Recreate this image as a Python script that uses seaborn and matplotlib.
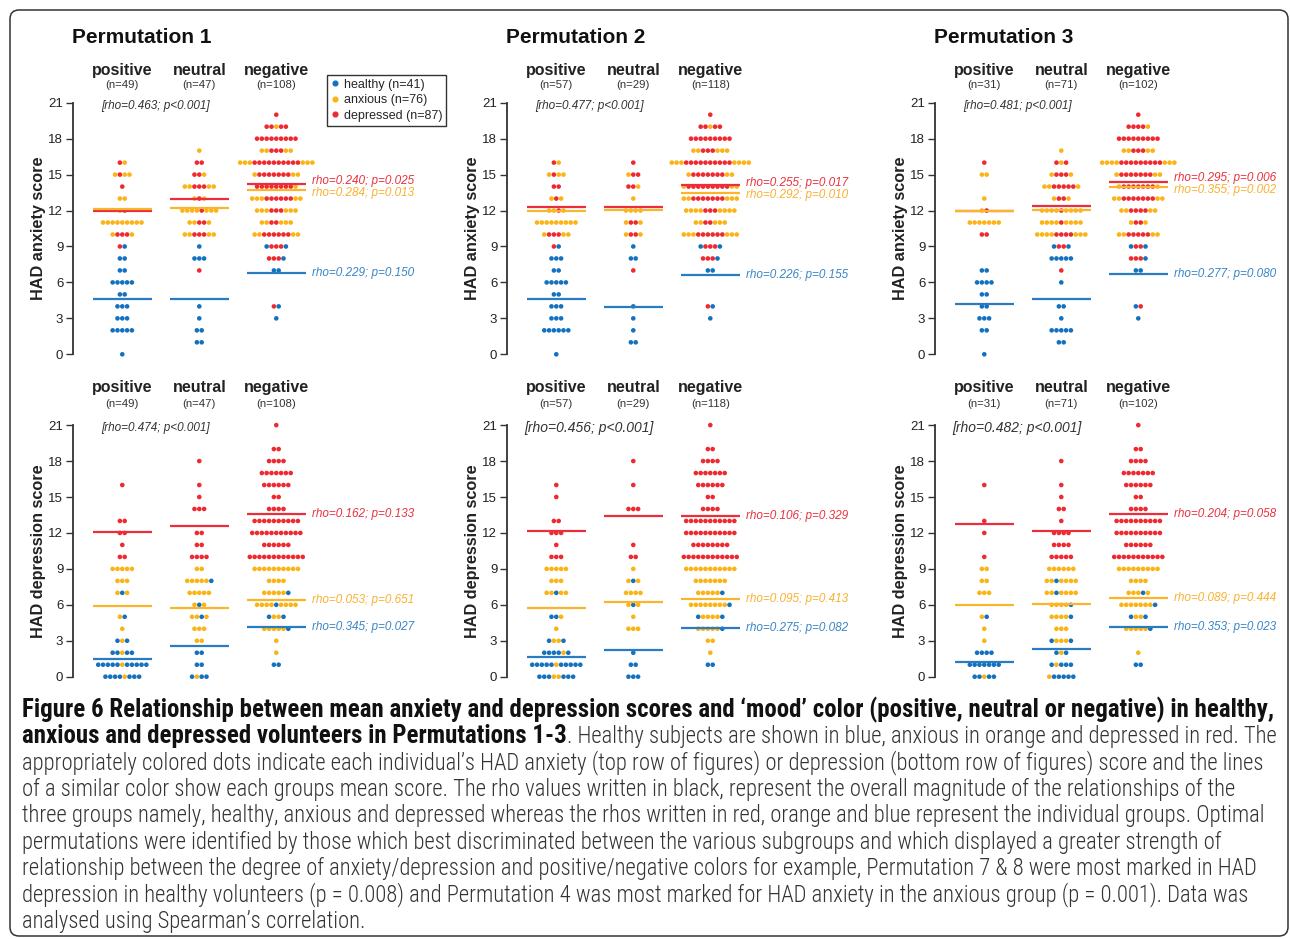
import matplotlib
matplotlib.use("Agg")
import numpy as np
import pandas as pd
import matplotlib.pyplot as plt
import seaborn as sns
from matplotlib import font_manager
from matplotlib.lines import Line2D
from matplotlib.patches import FancyBboxPatch
from matplotlib.transforms import IdentityTransform

# ---------------------------------------------------------------- data
CATEGORIES = ["positive", "neutral", "negative"]
GROUPS = ["healthy", "anxious", "depressed"]
GROUP_CODES = {"h": "healthy", "a": "anxious", "d": "depressed"}
GROUP_N = [41, 76, 87]
PERM_TITLES = ["Permutation 1", "Permutation 2", "Permutation 3"]
CATEGORY_N = [[49, 47, 108], [57, 29, 118], [31, 71, 102]]

# score -> group of each dot in the row, left to right (h/a/d)
anx1_pos = {16: "da", 15: "adaa", 14: "d", 13: "aa", 12: "ad", 11: "aaaaaaaaa", 10: "addda",
            9: "dh", 8: "hh", 7: "hh", 6: "hhhhh", 5: "hh", 4: "hhh", 3: "hhh", 2: "hhhhh", 0: "h"}
anx1_neu = {17: "a", 16: "dd", 15: "dda", 14: "aadddaa", 13: "ada", 12: "aaaadaaa", 11: "aadda",
            10: "aadddaa", 9: "h", 8: "hhh", 7: "d", 4: "h", 3: "h", 2: "hh", 1: "hh"}
anx1_neg = {20: "d", 19: "ddadd", 18: "ddddddddd", 17: "aadddaa", 16: "aaaddddddddddaaa",
            15: "adddddddaa", 14: "dddddddda", 13: "aaaddddddaa", 12: "aaadddaaa", 11: "aaddaaa",
            10: "aaddddddaa", 9: "hdddh", 8: "dddh", 7: "hh", 4: "dh", 3: "h"}

anx2_pos = {16: "da", 15: "adaa", 14: "dd", 13: "ada", 12: "aada", 11: "aaaaaaaaa", 10: "adddaa",
            9: "dh", 8: "hhh", 7: "hh", 6: "hhhhh", 5: "hh", 4: "hhh", 3: "hhh", 2: "hhhhhh", 0: "h"}
anx2_neu = {16: "d", 15: "add", 14: "dda", 13: "a", 12: "aaaa", 11: "adda", 10: "adda",
            9: "h", 8: "hh", 7: "d", 4: "h", 3: "h", 2: "h", 1: "hh"}
anx2_neg = {20: "d", 19: "ddadd", 18: "ddddddddd", 17: "aadddaaa", 16: "aaaddddddddddaaaa",
            15: "adddddddaa", 14: "adddddddddaa", 13: "aadddddddaaa", 12: "aaaadddaaaa", 11: "aaddaaa",
            10: "aaaddddddaaa", 9: "hdddh", 8: "dddh", 7: "hh", 4: "dh", 3: "h"}

anx3_pos = {16: "d", 15: "aa", 13: "a", 12: "ad", 11: "aaaaaaa", 10: "dd", 7: "hh", 6: "hhhh",
            5: "hh", 4: "hh", 3: "hhh", 2: "hh", 0: "h"}
anx3_neu = {17: "a", 16: "dad", 15: "addda", 14: "aaddddda", 13: "adda", 12: "aaaadaaaa",
            11: "aaaadaaaa", 10: "aaaaddddaaa", 9: "hddh", 8: "hhhhh", 7: "d", 6: "h", 4: "hh",
            3: "h", 2: "hhhhh", 1: "hh"}
anx3_neg = {20: "d", 19: "dddda", 18: "ddddddddd", 17: "aadddaa", 16: "aaaadddddddddaaa",
            15: "adddddddaa", 14: "addddddda", 13: "aadddddddaa", 12: "aaddddaa", 11: "adda",
            10: "aadddddaa", 9: "hddh", 8: "dddh", 7: "hh", 4: "hd", 3: "h"}

dep1_pos = {16: "d", 13: "dd", 12: "dd", 11: "d", 10: "dd", 9: "aaaaa", 8: "aaa", 7: "aha",
            5: "ah", 4: "a", 3: "hah", 2: "hhahh", 1: "hhhhhahhhhh", 0: "hhhhahhh"}
dep1_neu = {18: "d", 16: "d", 15: "d", 14: "ddd", 12: "dd", 11: "dd", 10: "dddd", 9: "aa",
            8: "aaaaah", 7: "aaaaa", 6: "aha", 5: "aaha", 4: "aaa", 3: "aa", 2: "hh", 1: "hh", 0: "hahh"}
dep1_neg = {21: "d", 19: "dd", 18: "dddd", 17: "ddddddd", 16: "dddddd", 15: "dd", 14: "dddd",
            13: "dddddddddd", 12: "ddddddddddd", 11: "dddddd", 10: "dddddddddddd",
            9: "aaaaaaaaaa", 8: "aaaa", 7: "aaaaah", 6: "aaaahaaaa", 5: "haah", 4: "aaaaah",
            3: "a", 2: "a", 1: "hh"}

dep2_pos = {16: "d", 15: "d", 13: "dd", 12: "ddd", 11: "d", 10: "ddd", 9: "aaaaa", 8: "aaa",
            7: "aahaa", 5: "hha", 4: "a", 3: "haah", 2: "hhhhah", 1: "hhhhhahhhhh", 0: "hhhaahhh"}
dep2_neu = {18: "d", 16: "d", 14: "ddd", 11: "d", 10: "dd", 9: "a", 8: "aha", 7: "aaaa",
            6: "aha", 5: "a", 4: "aaa", 2: "h", 1: "hh", 0: "hhh"}
dep2_neg = {21: "d", 19: "dd", 18: "dddd", 17: "ddddddd", 16: "dddddd", 15: "dd", 14: "dddd",
            13: "ddddddddddd", 12: "ddddddddddd", 11: "dddddddd", 10: "dddddddddddd",
            9: "aaaaaaaaaaa", 8: "aaaaaaa", 7: "aaaaah", 6: "aaaaaaaah", 5: "haaaah", 4: "aaaaah",
            3: "aa", 2: "a", 1: "hh"}

dep3_pos = {16: "d", 13: "d", 12: "d", 10: "d", 9: "aa", 8: "aa", 7: "aaa", 5: "ah", 4: "a",
            3: "a", 2: "hhhh", 1: "hhhhhhh", 0: "hhahh"}
dep3_neu = {18: "d", 16: "d", 15: "d", 14: "dd", 13: "d", 12: "dddd", 11: "dddd", 10: "ddddd",
            9: "aaaaaa", 8: "aahaaaa", 7: "aahaaaa", 6: "aaaah", 5: "aaaah", 4: "aaa", 3: "haaah",
            2: "hah", 1: "hahhh", 0: "ahhhhh"}
dep3_neg = {21: "d", 19: "dd", 18: "dddd", 17: "ddddddd", 16: "dddddd", 15: "dd", 14: "dddd",
            13: "dddddddddd", 12: "dddddddddd", 11: "dddddd", 10: "ddddddddddd",
            9: "aaaaaaaaa", 8: "aaaa", 7: "aaaha", 6: "aaaaaaah", 5: "haah", 4: "aaaaah",
            2: "a", 1: "hh"}

ANXIETY = [[anx1_pos, anx1_neu, anx1_neg], [anx2_pos, anx2_neu, anx2_neg], [anx3_pos, anx3_neu, anx3_neg]]
DEPRESSION = [[dep1_pos, dep1_neu, dep1_neg], [dep2_pos, dep2_neu, dep2_neg], [dep3_pos, dep3_neu, dep3_neg]]

# group means per category: [healthy, anxious, depressed]
ANX_MEANS = [
    [[4.6, 12.16, 12.0], [4.6, 12.19, 12.94], [6.76, 13.69, 14.24]],
    [[4.6, 11.94, 12.27], [3.98, 12.08, 12.3], [6.65, 13.46, 14.16]],
    [[4.2, 12.0, 12.0], [4.6, 12.07, 12.38], [6.68, 13.99, 14.36]],
]
DEP_MEANS = [
    [[1.5, 5.93, 12.1], [2.59, 5.76, 12.6], [4.17, 6.4, 13.55]],
    [[1.62, 5.73, 12.19], [2.23, 6.24, 13.39], [4.07, 6.51, 13.39]],
    [[1.23, 6.01, 12.75], [2.34, 6.07, 12.16], [4.15, 6.6, 13.58]],
]
ANX_OVERALL = ["[rho=0.463; p<0.001]", "[rho=0.477; p<0.001]", "[rho=0.481; p<0.001]"]
DEP_OVERALL = ["[rho=0.474; p<0.001]", "[rho=0.456; p<0.001]", "[rho=0.482; p<0.001]"]
ANX_GROUP_RHO = [
    ["rho=0.229; p=0.150", "rho=0.284; p=0.013", "rho=0.240; p=0.025"],
    ["rho=0.226; p=0.155", "rho=0.292; p=0.010", "rho=0.255; p=0.017"],
    ["rho=0.277; p=0.080", "rho=0.355; p=0.002", "rho=0.295; p=0.006"],
]
DEP_GROUP_RHO = [
    ["rho=0.345; p=0.027", "rho=0.053; p=0.651", "rho=0.162; p=0.133"],
    ["rho=0.275; p=0.082", "rho=0.095; p=0.413", "rho=0.106; p=0.329"],
    ["rho=0.353; p=0.023", "rho=0.089; p=0.444", "rho=0.204; p=0.058"],
]
ROW_YLABELS = ["HAD anxiety score", "HAD depression score"]

CAPTION_BOLD_1 = ("Figure 6 Relationship between mean anxiety and depression scores and \u2018mood\u2019 color "
                  "(positive, neutral or negative) in healthy,")
CAPTION_BOLD_2 = "anxious and depressed volunteers in Permutations 1-3"
CAPTION_REST_2 = ". Healthy subjects are shown in blue, anxious in orange and depressed in red. The"
CAPTION_LINES = [
    "appropriately colored dots indicate each individual\u2019s HAD anxiety (top row of figures) or depression (bottom row of figures) score and the lines",
    "of a similar color show each groups mean score. The rho values written in black, represent the overall magnitude of the relationships of the",
    "three groups namely, healthy, anxious and depressed whereas the rhos written in red, orange and blue represent the individual groups. Optimal",
    "permutations were identified by those which best discriminated between the various subgroups and which displayed a greater strength of",
    "relationship between the degree of anxiety/depression and positive/negative colors for example, Permutation 7 & 8 were most marked in HAD",
    "depression in healthy volunteers (p = 0.008) and Permutation 4 was most marked for HAD anxiety in the anxious group (p = 0.001). Data was",
    "analysed using Spearman\u2019s correlation.",
]

# ---------------------------------------------------------------- style
DOT_COLORS = {"healthy": "#1372c0", "anxious": "#fbb415", "depressed": "#ee2a30"}
LINE_COLORS = ["#2a7cc2", "#fbb52a", "#ec2d3b"]
TEXT_COLORS = ["#3a85c6", "#f8b131", "#e8323f"]
INK = "#222222"

sns.set_style("white")
plt.rcParams["font.family"] = ["Liberation Sans", "DejaVu Sans"]

W, H = 1290, 939
fig = plt.figure(figsize=(W / 100, H / 100), dpi=100)

X_LEFT, X_RIGHT = -0.64, 2.6
Y_LOW, Y_HIGH = -0.5, 21.5
PX_X, PX_Y = 77.0, 11.98
DOT_STEP = 0.0625
SPINE_X = [73, 507, 935]
ZERO_Y = [354.3, 676.7]
HEADER_Y = [(23.73, 22.48), (24.15, 22.75)]
ax_w = (X_RIGHT - X_LEFT) * PX_X
ax_h = (Y_HIGH - Y_LOW) * PX_Y


def panel_frame(columns):
    rows = []
    for ci, col in enumerate(columns):
        for score, codes in col.items():
            n = len(codes)
            for k, code in enumerate(codes):
                rows.append({"x": ci + (k - (n - 1) / 2) * DOT_STEP, "score": score,
                             "group": GROUP_CODES[code]})
    return pd.DataFrame(rows)


for row in range(2):
    data_sets = ANXIETY if row == 0 else DEPRESSION
    means_sets = ANX_MEANS if row == 0 else DEP_MEANS
    overall = ANX_OVERALL if row == 0 else DEP_OVERALL
    group_rho = ANX_GROUP_RHO if row == 0 else DEP_GROUP_RHO
    for col in range(3):
        left = SPINE_X[col] / W
        bottom = 1 - (ZERO_Y[row] + 0.5 * PX_Y) / H
        ax = fig.add_axes([left, bottom, ax_w / W, ax_h / H])
        df = panel_frame(data_sets[col])
        sns.scatterplot(data=df, x="x", y="score", hue="group", hue_order=GROUPS,
                        palette=DOT_COLORS, s=11, linewidth=0, legend=False, ax=ax, zorder=3)
        means = means_sets[col]
        for ci in range(3):
            for gi in (0, 2, 1):
                ax.hlines(means[ci][gi], ci - 0.38, ci + 0.38, color=LINE_COLORS[gi],
                          lw=1.6, zorder=4)
        ax.set_xlim(X_LEFT, X_RIGHT)
        ax.set_ylim(Y_LOW, Y_HIGH)
        ax.set_xticks([])
        ax.set_xlabel("")
        ax.set_yticks(range(0, 22, 3))
        ax.tick_params(axis="y", length=5, width=1, color="#333333", labelsize=9.5,
                       labelcolor=INK, pad=2, left=True)
        for side in ("top", "right", "bottom"):
            ax.spines[side].set_visible(False)
        ax.spines["left"].set_bounds(0, 21)
        ax.spines["left"].set_color("#333333")
        ax.spines["left"].set_linewidth(1.3)
        ax.set_ylabel(ROW_YLABELS[row], fontsize=11.7, fontweight="bold", color=INK, va="center")
        ax.yaxis.set_label_coords(-(SPINE_X[0] - 38.5) / ax_w, 0.5)
        ax.patch.set_alpha(0)

        hy_cat, hy_n = HEADER_Y[row]
        for ci, cat in enumerate(CATEGORIES):
            ax.text(ci, hy_cat, cat, ha="center", va="center", fontsize=11.5,
                    fontweight="bold", color=INK, clip_on=False)
            ax.text(ci, hy_n, f"(n={CATEGORY_N[col][ci]})", ha="center", va="center",
                    fontsize=8.2, color="#333333", clip_on=False)
        if row == 0:
            ax.text(0.25, 26.46, PERM_TITLES[col], ha="center", va="center", fontsize=15,
                    fontweight="bold", color="#111111", clip_on=False)
        big = row == 1 and col > 0
        ax.text(0.43, 20.72, overall[col], ha="center", va="center", style="italic",
                fontsize=10 if big else 8.5, color="#333333", clip_on=False)

        neg = means[2]
        ys = [neg[0], neg[1], neg[2]]
        if abs(neg[2] - neg[1]) < 1.0:
            mid = (neg[1] + neg[2]) / 2
            if neg[2] >= neg[1]:
                ys[2], ys[1] = mid + 0.5, mid - 0.5
            else:
                ys[1], ys[2] = mid + 0.5, mid - 0.5
        for gi in range(3):
            ax.text(2.47, ys[gi], group_rho[col][gi], ha="left", va="center", style="italic",
                    fontsize=8.5, color=TEXT_COLORS[gi], clip_on=False)

# legend
handles = [Line2D([], [], marker="o", ls="", color=DOT_COLORS[g], markersize=3.4,
                  label=f"{g} (n={n})") for g, n in zip(GROUPS, GROUP_N)]
fig.legend(handles=handles, loc="upper left", bbox_to_anchor=(327 / W, 1 - 75 / H),
           frameon=True, fancybox=False, edgecolor="#333333", fontsize=9,
           handlelength=0.7, handletextpad=0.35, labelspacing=0.28, borderpad=0.3,
           borderaxespad=0, framealpha=1)

# outer frame
frame = FancyBboxPatch((10, 3), 1278, 926, boxstyle="round,pad=0,rounding_size=9",
                       transform=IdentityTransform(), fill=False, edgecolor="#333333",
                       lw=1.1, zorder=0)
fig.patches.append(frame)

# caption
available = {f.name for f in font_manager.fontManager.ttflist}
cap_font = next((f for f in ["Liberation Sans Narrow", "DejaVu Sans Condensed", "Roboto Condensed"]
                 if f in available), "Roboto")
renderer = fig.canvas.get_renderer()
X0 = 22
LINE_Y = [710 + 26.4 * i for i in range(9)]


def fy(y):
    return 1 - y / H


b1 = fig.text(X0 / W, fy(LINE_Y[0]), CAPTION_BOLD_1, fontweight="bold", fontsize=12,
              family=[cap_font, "DejaVu Sans"], va="center", ha="left", color="#111111")
w = b1.get_window_extent(renderer).width
bold_size = 12 * 1256 / w
b1.set_fontsize(bold_size)
b2 = fig.text(X0 / W, fy(LINE_Y[1]), CAPTION_BOLD_2, fontweight="bold", fontsize=bold_size,
              family=[cap_font, "DejaVu Sans"], va="center", ha="left", color="#111111")

probe = fig.text(X0 / W, fy(LINE_Y[2]), CAPTION_LINES[0], fontsize=12, fontweight="light",
                 family=[cap_font, "DejaVu Sans"], va="center", ha="left", color="#333333")
w = probe.get_window_extent(renderer).width
reg_size = 12 * 1243 / w
probe.set_fontsize(reg_size)
for i, line in enumerate(CAPTION_LINES[1:], start=3):
    fig.text(X0 / W, fy(LINE_Y[i]), line, fontsize=reg_size, fontweight="light",
             family=[cap_font, "DejaVu Sans"], va="center", ha="left", color="#333333")
wb2 = b2.get_window_extent(renderer).width
fig.text((X0 + wb2) / W, fy(LINE_Y[1]), CAPTION_REST_2, fontsize=reg_size, fontweight="light",
         family=[cap_font, "DejaVu Sans"], va="center", ha="left", color="#333333")

fig.savefig("out.png", dpi=100)
